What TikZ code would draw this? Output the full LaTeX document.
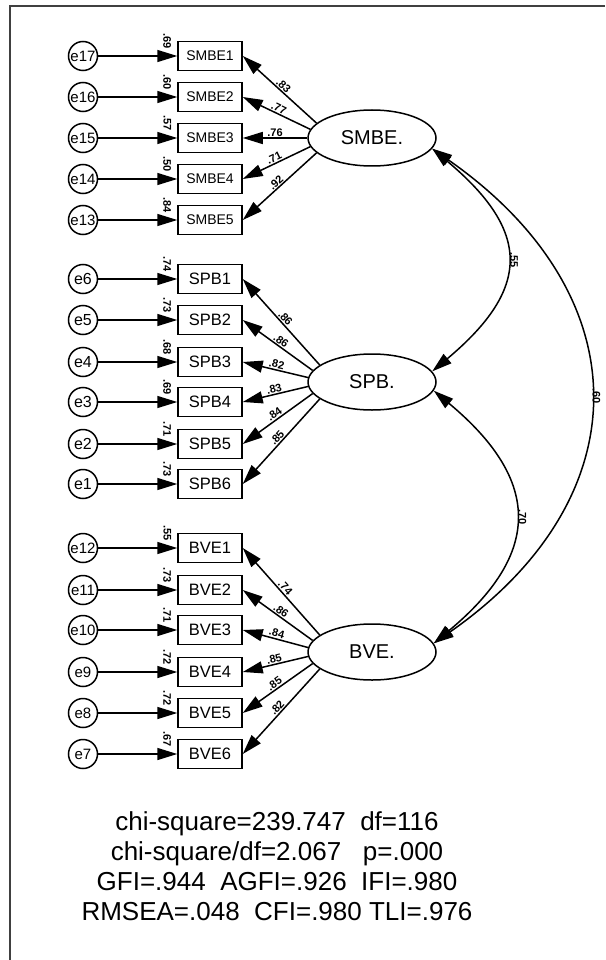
\documentclass[tikz,border=0pt]{standalone}
\usepackage{fontspec}
\setmainfont{Liberation Sans}
\usetikzlibrary{arrows.meta,shapes.geometric}

\begin{document}
\begin{tikzpicture}[
  x=1pt,y=-1pt,
  line width=1.5pt,
  obs/.style={draw,rectangle,minimum width=64pt,minimum height=29pt,inner sep=0pt,
              font=\fontsize{16.5}{18}\selectfont},
  lat/.style={draw,ellipse,minimum width=128pt,minimum height=56pt,inner sep=0pt,
              font=\fontsize{20}{22}\selectfont},
  err/.style={draw,circle,minimum size=29pt,inner sep=0pt,font=\fontsize{16}{18}\selectfont},
  arr/.style={-{Triangle[length=20pt,width=12pt]}},
  dbl/.style={{Triangle[length=20pt,width=12pt]}-{Triangle[length=20pt,width=12pt]}},
  est/.style={font=\fontsize{11}{12}\selectfont\bfseries,inner sep=1pt},
  fitline/.style={font=\fontsize{26}{30}\selectfont,align=center}
]
\useasboundingbox (0,0) rectangle (605,960);
\draw[line width=1.5pt,black!75] (10,960) -- (10,6) -- (605,6);

% latent factors
\node[lat] (smbe) at (372,138) {SMBE.};
\node[lat] (spb) at (372,382) {SPB.};
\node[lat] (bve) at (372,652) {BVE.};

% SMBE items
\foreach \i/\en/\y/\rv/\ld/\a in {1/17/56/.69/.83/165, 2/16/97/.60/.77/172,
    3/15/138/.57/.76/180, 4/14/179/.50/.71/188, 5/13/220/.84/.92/195}{
  \node[obs,font=\fontsize{14}{16}\selectfont] (smbe\i) at (210,\y) {SMBE\i};
  \node[err,font=\fontsize{15}{16}\selectfont] (e\en) at (83,\y) {e\en};
  \draw[arr] (e\en) -- (smbe\i);
  \node[est,rotate=-90] at ([xshift=-10pt]smbe\i.north west) {\rv};
  \draw[arr] (smbe.\a) -- (smbe\i.east) node[est,sloped,above,pos=0.5] {\ld};
}

% SPB items
\foreach \i/\en/\y/\rv/\ld/\a in {1/6/279/.74/.86/162, 2/5/320/.73/.86/169,
    3/4/362/.68/.82/176, 4/3/402/.69/.83/184, 5/2/444/.71/.84/191, 6/1/484/.73/.85/198}{
  \node[obs] (spb\i) at (210,\y) {SPB\i};
  \node[err] (e\en) at (83,\y) {e\en};
  \draw[arr] (e\en) -- (spb\i);
  \node[est,rotate=-90] at ([xshift=-10pt]spb\i.north west) {\rv};
  \draw[arr] (spb.\a) -- (spb\i.east) node[est,sloped,above,pos=0.5] {\ld};
}

% BVE items
\foreach \i/\en/\y/\rv/\ld/\a in {1/12/548/.55/.74/162, 2/11/590/.73/.86/169,
    3/10/630/.71/.84/176, 4/9/672/.72/.85/184, 5/8/713/.72/.85/191, 6/7/754/.67/.82/198}{
  \node[obs] (bve\i) at (210,\y) {BVE\i};
  \node[err,font=\fontsize{15}{16}\selectfont] (e\en) at (83,\y) {e\en};
  \draw[arr] (e\en) -- (bve\i);
  \node[est,rotate=-90] at ([xshift=-10pt]bve\i.north west) {\rv};
  \draw[arr] (bve.\a) -- (bve\i.east) node[est,sloped,above,pos=0.5] {\ld};
}

% correlations
\draw[dbl] (smbe.-10) .. controls +(99,83) and +(99,-83) .. (spb.10)
  node[est,pos=0.5,anchor=south,rotate=-90,inner sep=3pt] {.55};
\draw[dbl] (spb.-8) .. controls +(108,90) and +(108,-90) .. (bve.8)
  node[est,pos=0.5,anchor=south,rotate=-90,inner sep=3pt] {.70};
\draw[dbl] (smbe.-10) .. controls +(209,146) and +(209,-146) .. (bve.8)
  node[est,pos=0.5,anchor=south,rotate=-90,inner sep=2pt] {.60};

% fit indices
\node[fitline] (fit) at (277,866) {chi-square=239.747\ \ df=116\\
  chi-square/df=2.067\ \ \ p=.000\\
  GFI=.944\ \ AGFI=.926\ \ IFI=.980\\
  RMSEA=.048\ \ CFI=.980 TLI=.976};
\end{tikzpicture}
\end{document}
